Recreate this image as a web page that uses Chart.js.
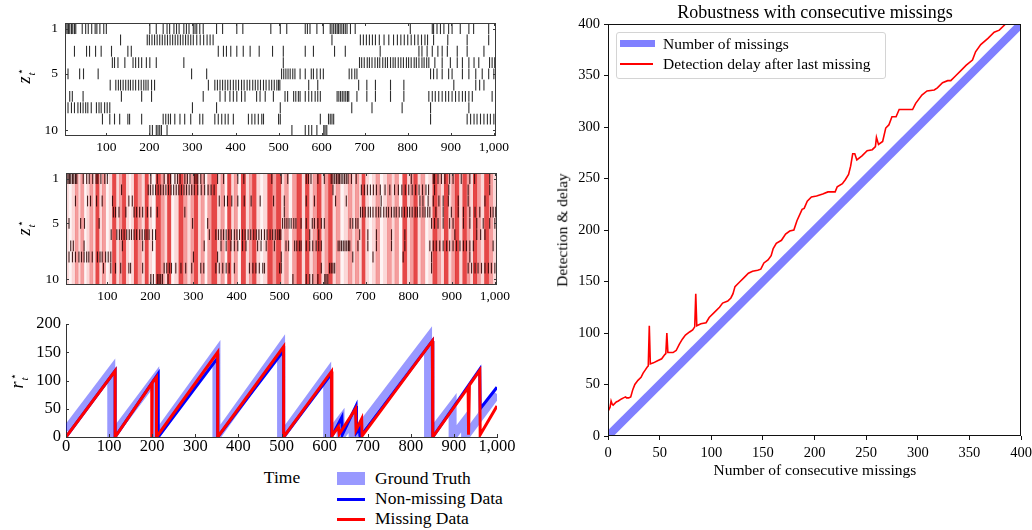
<!DOCTYPE html>
<html>
<head>
<meta charset="utf-8">
<script src="https://cdn.jsdelivr.net/npm/chart.js@4.4.1/dist/chart.umd.min.js"></script>
<style>
  html, body { margin: 0; padding: 0; background: #fff; }
  #fig { position: relative; width: 1032px; height: 530px; overflow: hidden;
         font-family: "Liberation Serif", "DejaVu Serif", serif; color: #000; }
  #fig canvas { position: absolute; }
  .lbl { position: absolute; white-space: nowrap; transform: translate(-50%, -50%); line-height: 1; }
  .rot { transform: translate(-50%, -50%) rotate(-90deg); }
  .left { position: absolute; white-space: nowrap; transform: translateY(-50%); line-height: 1; }
  .ss { display: inline-block; vertical-align: middle; font-size: 0.62em; line-height: 0.95; text-align: left; margin-left: 1px; }
  .ss span { display: block; }
  .swatch { position: absolute; }
  #lgBox { position: absolute; left: 616px; top: 32px; width: 268px; height: 45px;
           border: 1px solid #d4d4d4; border-radius: 3px; background: rgba(255,255,255,0.85); }
</style>
</head>
<body>
<div id="fig">
  <canvas id="zPlain" width="530" height="160" style="left:0;top:0"></canvas>
  <canvas id="zMissing" width="530" height="160" style="left:0;top:150px"></canvas>
  <canvas id="runLen" width="530" height="160" style="left:0;top:300px"></canvas>
  <canvas id="delay" width="510" height="530" style="left:540px;top:0"></canvas>

  <div class="lbl rot" style="left:26px;top:76px;font-size:18px"><i>z</i><span class="ss"><span>&#8902;</span><span><i>t</i></span></span></div>
  <div class="lbl rot" style="left:26px;top:228px;font-size:18px"><i>z</i><span class="ss"><span>&#8902;</span><span><i>t</i></span></span></div>
  <div class="lbl rot" style="left:19px;top:381px;font-size:18px"><i>r</i><span class="ss"><span>&#8902;</span><span><i>t</i></span></span></div>
  <div class="lbl" style="left:282px;top:478px;font-size:17.5px">Time</div>

  <div class="swatch" style="left:337px;top:472px;width:28px;height:13px;background:rgba(0,0,255,0.4)"></div>
  <div class="left" style="left:375px;top:479px;font-size:17.5px">Ground Truth</div>
  <div class="swatch" style="left:337px;top:498px;width:28px;height:3px;background:#0000ff"></div>
  <div class="left" style="left:375px;top:499px;font-size:17.5px">Non-missing Data</div>
  <div class="swatch" style="left:337px;top:518px;width:28px;height:3px;background:#ff0000"></div>
  <div class="left" style="left:375px;top:519px;font-size:17.5px">Missing Data</div>

  <div class="lbl" style="left:815px;top:12px;font-size:18px">Robustness with consecutive missings</div>
  <div class="lbl rot" style="left:562px;top:230px;font-size:15.5px">Detection &amp; delay</div>
  <div class="lbl" style="left:815px;top:470px;font-size:15.5px">Number of consecutive missings</div>

  <div id="lgBox"></div>
  <div class="swatch" style="left:620px;top:40px;width:35px;height:7px;background:#8080ff"></div>
  <div class="left" style="left:663px;top:44px;font-size:15.5px">Number of missings</div>
  <div class="swatch" style="left:620px;top:63px;width:33px;height:2px;background:#ff0000"></div>
  <div class="left" style="left:663px;top:64px;font-size:15.5px">Detection delay after last missing</div>
</div>

<script>
// ---------------- data ----------------
const timeTicks = [100, 200, 300, 400, 500, 600, 700, 800, 900, 1000];
const stateTicks = [1, 5, 10];

// times at which each hidden state (rows 1..10) is active
const zRow1 = [3,6,9,12,15,19,22,26,29,44,52,58,66,74,78,85,94,100,201,216,232,241,247,257,263,269,280,286,292,302,306,310,317,325,356,370,403,417,482,504,519,562,567,573,589,604,620,624,628,632,636,639,643,647,651,655,659,667,678,806,857,860,868,876,884,895,903,922,942,953,988];
const zRow2 = [133,195,200,206,212,218,224,230,236,242,248,254,260,266,272,278,284,290,296,302,310,318,326,334,341,348,624,690,697,704,711,718,725,734,745,756,767,776,784,792,800,808,816,824,832,840,846,860,893,938,988];
const zRow3 = [26,54,61,75,88,112,150,158,360,372,379,389,403,418,434,455,486,511,562,581,630,655,736,826,833,845,857,870,880,892,915,938,977];
const zRow4 = [114,119,127,143,162,168,175,182,193,201,216,280,511,688,693,699,706,711,717,724,730,735,742,748,753,760,766,771,778,784,790,797,802,808,815,820,826,833,838,844,849,863,880,899,915,927,942,954,965,990,996,1002];
const zRow5 = [11,38,47,81,298,333,507,512,517,522,527,533,538,550,562,576,581,589,597,604,664,670,677,682,853,860,868,880,895,903,927,942,958,973,988,1000];
const zRow6 = [109,122,128,133,139,145,151,156,162,168,175,181,187,192,197,205,212,337,352,358,364,370,376,382,388,395,401,407,414,420,427,433,440,446,452,458,465,471,478,484,490,496,500,503,570,591,686,705,725,760,791,907,958,967,977];
const zRow7 = [15,21,46,135,182,205,325,364,376,387,395,403,414,422,449,457,469,488,515,521,535,540,546,550,562,570,577,585,591,597,636,640,644,648,652,656,660,663,682,705,725,760,791,849,857,864,872,880,888,895,903,911,919,927,934,942,950,996];
const zRow8 = [5,11,19,26,34,40,46,52,57,65,77,83,88,96,102,108,300,356,504,670,717,787,853,942];
const zRow9 = [91,108,119,131,150,154,182,232,238,244,249,259,271,282,296,317,324,352,360,368,376,383,395,430,438,445,453,461,465,500,504,597,616,620,624,628,853,938,946,954,961,969,977,985,992,1000];
const zRow10 = [201,207,216,220,224,228,241,531,562,570,577,589,605,608,612];
const zRows = [zRow1, zRow2, zRow3, zRow4, zRow5, zRow6, zRow7, zRow8, zRow9, zRow10];

// missing-data intensity per time stretch (stretch centre, level 0..3)
const missCenters = [5,14,22,29,35,42,49,56,63,69.5,77,84.5,92,100,108,116,124,131.5,139,146.5,153,159,166,174,183.5,192,198.5,207.5,218.5,228,236,243.5,251.5,261.5,271,280,290,298.5,306,314,321.5,329,337,348.5,360,368,375.5,383,391,398.5,406,416,426,433.5,441,450,458.5,467,478,488,498,508,516,525,535,546,556,564,573,583,592,601,610,618,627,636,645,655,664,672,680,688,695,702,711,720,728,737,746,755,764,772,781,791,800,808,816,824,833,842,851,861,870,878,887,896,904,912,921,930,938,946,954,962,971,981,990,999.5];
const missLevels = [1,0,1,2,1,2,0,1,2,1,3,1,2,0,1,3,1,2,3,1,0,1,3,2,1,3,1,0,3,2,1,3,0,1,3,2,1,2,3,1,2,0,2,3,1,2,0,3,1,2,0,3,1,2,3,1,0,1,3,2,3,1,2,0,2,3,1,3,1,2,3,1,2,3,1,2,0,1,2,1,2,1,3,1,0,1,2,0,1,2,1,2,0,3,1,2,3,1,2,0,1,3,2,1,3,1,2,3,1,3,2,1,3,2,1,3,2,1];

// run length r*_t
const truthT = [0,105,105,207,207,349,349,499,499,606,606,637,637,665,665,840,840,897,897,926,926,1000];
const truthR = [12,118,0,104,0,150,0,160,0,112,0,31,0,28,0,175,0,57,0,29,0,76];
const fullT  = [0,114,114,214,214,352,352,505,505,616,616,640,641,673,674,681,682,850,851,960,961,1000];
const fullR  = [0,117,0,112,0,140,0,153,0,112,0,35,4,55,8,15,0,170,0,120,50,88];
const missT  = [0,114,114,199,199,200,210,210,352,352,505,505,616,617,632,634,672,673,686,687,850,851,933,934,936,960,961,1000];
const missR  = [0,117,0,95,0,96,106,0,150,0,160,0,116,2,18,5,50,12,32,2,170,0,88,4,92,118,4,55];

// robustness experiment
const missingsN = [0, 400];
const missingsV = [0, 400];
const delayN = [0,2,3,4,5,8,10,13,15,17,18,20,22,24,26,29,32,34,36,38,39,40,41,44,48,52,55,56,57,58,60,63,66,69,72,75,79,82,84,85,86,90,95,98,103,108,111,116,119,121,123,127,132,136,140,145,148,151,155,158,160,163,168,172,176,180,183,188,190,193,197,202,208,213,220,222,227,230,233,235,237,239,241,246,251,256,259,260,262,266,269,272,275,279,282,288,295,298,304,309,316,319,324,329,332,337,342,347,353,356,361,368,374,379,386,392];
const delayV = [24,28,34,31,30,33,34,36,37,38,37,37,38,45,50,54,57,61,64,67,68,107,70,71,73,75,79,80,100,81,81,81,83,89,94,98,101,103,106,138,107,109,110,115,120,125,129,131,134,138,145,149,154,158,160,161,162,168,171,175,182,187,190,196,199,200,209,220,221,228,232,233,235,237,237,242,245,249,254,262,274,274,268,272,277,278,281,290,283,286,299,302,310,310,317,317,317,323,331,335,336,338,343,345,345,350,355,360,365,373,380,386,392,394,401,406];

// ---------------- drawing ----------------
Chart.defaults.font.family = '"Liberation Serif", "DejaVu Serif", serif';
Chart.defaults.color = '#000';
Chart.defaults.animation = false;
Chart.defaults.events = [];
Chart.defaults.plugins.legend.display = false;
Chart.defaults.plugins.tooltip.enabled = false;

const pts = (xs, ys) => xs.map((x, i) => ({ x: x, y: ys[i] }));
const thousands = v => Number(v).toLocaleString('en-US');

// box around the plotting area
const frame = {
  id: 'frame',
  afterDraw(chart, args, o) {
    if (!o || !o.color) return;
    const a = chart.chartArea, c = chart.ctx;
    const l = Math.round(a.left) + 0.5, t = Math.round(a.top) + 0.5;
    const r = Math.round(a.right) - 0.5, b = Math.round(a.bottom) - 0.5;
    c.save();
    c.strokeStyle = o.color; c.lineWidth = 1;
    c.strokeRect(l, t, r - l, b - t);
    c.restore();
  }
};

// short tick marks pointing into the plotting area
const innerTicks = {
  id: 'innerTicks',
  afterDraw(chart, args, o) {
    if (!o || !o.sides) return;
    const a = chart.chartArea, c = chart.ctx, L = o.len || 3;
    const xs = chart.scales.x, ys = chart.scales.y;
    c.save();
    c.strokeStyle = o.color || '#333'; c.lineWidth = 1;
    c.beginPath();
    xs.ticks.forEach(tk => {
      const px = Math.round(xs.getPixelForValue(tk.value)) + 0.5;
      if (o.sides.includes('bottom')) { c.moveTo(px, a.bottom); c.lineTo(px, a.bottom - L); }
      if (o.sides.includes('top')) { c.moveTo(px, a.top); c.lineTo(px, a.top + L); }
    });
    ys.ticks.forEach(tk => {
      const py = Math.round(ys.getPixelForValue(tk.value)) + 0.5;
      if (o.sides.includes('left')) { c.moveTo(a.left, py); c.lineTo(a.left + L, py); }
      if (o.sides.includes('right')) { c.moveTo(a.right, py); c.lineTo(a.right - L, py); }
    });
    c.stroke();
    c.restore();
  }
};

const bandColors = ['rgba(240,120,120,0.08)', 'rgba(238,90,90,0.24)', 'rgba(232,50,50,0.48)', 'rgba(222,25,25,0.80)'];

function stateChart(id, withMissing, markColor, leftW, rightPad, topPad, bottomH) {
  const marks = [];
  zRows.forEach((row, i) => row.forEach(t => marks.push({ x: t, y: i + 1 })));
  const datasets = [{
    type: 'scatter',
    data: marks,
    order: 1,
    pointStyle: 'line',
    rotation: 90,
    borderColor: markColor,
    borderWidth: 1.1,
    pointRadius: ctx => {
      const y = ctx.chart.scales.y;
      return Math.abs(y.getPixelForValue(2) - y.getPixelForValue(1)) * 0.48;
    },
    clip: 0
  }];
  if (withMissing) {
    datasets.push({
      type: 'bar',
      data: missCenters.map(t => ({ x: t, y: [0.5, 10.5] })),
      order: 2,
      backgroundColor: ctx => bandColors[missLevels[ctx.dataIndex]],
      barThickness: 'flex',
      categoryPercentage: 1,
      barPercentage: 1,
      borderWidth: 0,
      inflateAmount: 0.3
    });
  }
  return new Chart(document.getElementById(id), {
    type: 'scatter',
    data: { datasets },
    plugins: [frame, innerTicks],
    options: {
      responsive: false,
      layout: { padding: { left: 0, right: rightPad, top: topPad, bottom: 0 } },
      plugins: {
        frame: { color: '#3a3a3a' },
        innerTicks: { sides: ['bottom', 'top', 'left', 'right'], len: 3, color: '#3a3a3a' }
      },
      scales: {
        x: {
          type: 'linear', min: 4, max: 1005, offset: false,
          afterBuildTicks: s => { s.ticks = timeTicks.map(v => ({ value: v })); },
          afterFit: s => { s.height = bottomH; },
          grid: { display: false, drawTicks: false, offset: false }, border: { display: false },
          ticks: { font: { size: 13.5 }, padding: 3, maxRotation: 0, autoSkip: false, callback: thousands }
        },
        y: {
          type: 'linear', min: 0.5, max: 10.5, reverse: true,
          afterBuildTicks: s => { s.ticks = stateTicks.map(v => ({ value: v })); },
          afterFit: s => { s.width = leftW; },
          grid: { display: false, drawTicks: false }, border: { display: false },
          ticks: { font: { size: 13.5 }, padding: 7, autoSkip: false, callback: v => String(v) }
        }
      }
    }
  });
}

stateChart('zPlain', false, 'rgba(0,0,0,0.82)', 65, 34, 23, 24);
stateChart('zMissing', true, 'rgba(40,0,0,0.85)', 66, 33, 23, 25);

// run-length panel
new Chart(document.getElementById('runLen'), {
  type: 'line',
  data: {
    datasets: [
      { label: 'Ground Truth', data: pts(truthT, truthR), borderColor: 'rgba(0,0,255,0.4)', borderWidth: 8,
        borderJoinStyle: 'miter', pointRadius: 0, clip: 0, order: 3 },
      { label: 'Non-missing Data', data: pts(fullT, fullR), borderColor: '#0000ff', borderWidth: 3,
        pointRadius: 0, clip: 0, order: 2 },
      { label: 'Missing Data', data: pts(missT, missR), borderColor: '#ff0000', borderWidth: 3,
        pointRadius: 0, clip: 0, order: 1 }
    ]
  },
  plugins: [innerTicks],
  options: {
    responsive: false,
    layout: { padding: { left: 0, right: 33, top: 24, bottom: 0 } },
    plugins: { innerTicks: { sides: ['bottom', 'left'], len: 3, color: '#333' } },
    scales: {
      x: {
        type: 'linear', min: 0, max: 1000,
        afterFit: s => { s.height = 23; },
        grid: { display: false, drawTicks: false }, border: { display: true, color: '#333', width: 1 },
        ticks: { stepSize: 100, font: { size: 16.5 }, padding: 0, maxRotation: 0, autoSkip: false, callback: thousands }
      },
      y: {
        type: 'linear', min: 0, max: 200,
        afterFit: s => { s.width = 66; },
        grid: { display: false, drawTicks: false }, border: { display: true, color: '#333', width: 1 },
        ticks: { stepSize: 50, font: { size: 16.5 }, padding: 5 }
      }
    }
  }
});

// robustness with consecutive missings
new Chart(document.getElementById('delay'), {
  type: 'line',
  data: {
    datasets: [
      { label: 'Number of missings', data: pts(missingsN, missingsV), borderColor: 'rgba(0,0,255,0.5)',
        borderWidth: 8, borderCapStyle: 'butt', pointRadius: 0, clip: 0 },
      { label: 'Detection delay after last missing', data: pts(delayN, delayV), borderColor: '#ff0000',
        borderWidth: 1.6, pointRadius: 0, clip: 0 }
    ]
  },
  plugins: [frame],
  options: {
    responsive: false,
    layout: { padding: { left: 0, right: 29, top: 24, bottom: 0 } },
    plugins: { frame: { color: '#111' } },
    scales: {
      x: {
        type: 'linear', min: 0, max: 400,
        afterFit: s => { s.height = 94; },
        grid: { drawOnChartArea: false, drawTicks: true, tickLength: 4, tickColor: '#111' },
        border: { display: false },
        ticks: { stepSize: 50, font: { size: 14.5 }, padding: 4, maxRotation: 0, autoSkip: false }
      },
      y: {
        type: 'linear', min: 0, max: 400,
        afterFit: s => { s.width = 68; },
        grid: { drawOnChartArea: false, drawTicks: true, tickLength: 4, tickColor: '#111' },
        border: { display: false },
        ticks: { stepSize: 50, font: { size: 14.5 }, padding: 4 }
      }
    }
  }
});
</script>
</body>
</html>
